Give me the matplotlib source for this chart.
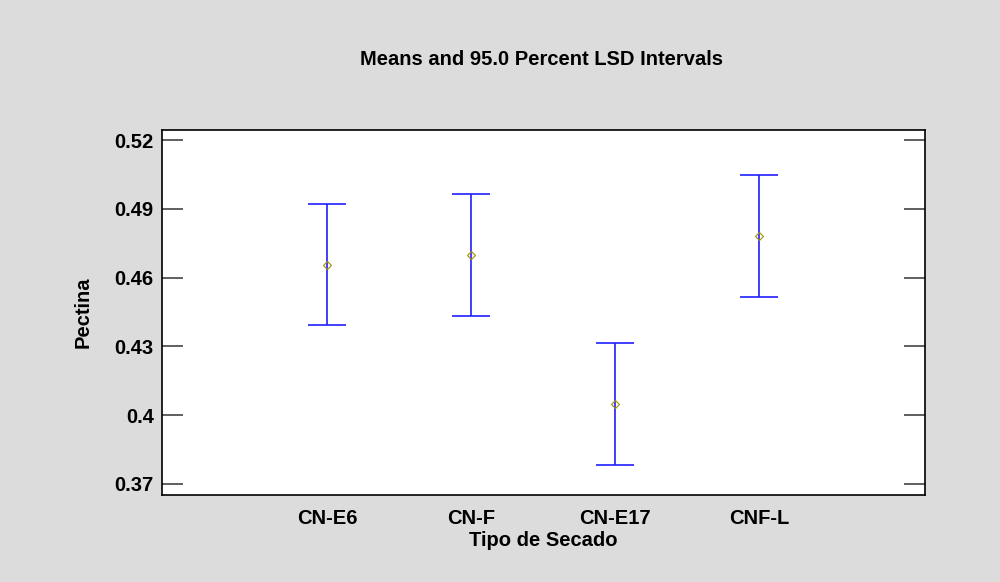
import matplotlib
matplotlib.use("Agg")
import matplotlib.pyplot as plt
import numpy as np

plt.rcParams["font.family"] = ["Liberation Sans", "DejaVu Sans"]

# Means and LSD interval bounds
grupos = ["CN-E6", "CN-F", "CN-E17", "CNF-L"]
medias = [0.4655, 0.4699, 0.4049, 0.4781]
inferior = [0.4393, 0.4433, 0.3783, 0.4515]
superior = [0.4921, 0.4965, 0.4315, 0.5047]

medias = np.array(medias)
err = [medias - np.array(inferior), np.array(superior) - medias]
x = np.arange(len(grupos))

fig = plt.figure(figsize=(10, 5.82), dpi=100, facecolor="#dcdcdc")
ax = fig.add_axes([0.162, 0.1495, 0.763, 0.6271])
ax.set_facecolor("white")

ax.errorbar(x, medias, yerr=err, fmt="none", ecolor="#2020ff", elinewidth=1.2,
            capsize=14, capthick=1.2, zorder=2)
ax.plot(x, medias, "D", ms=4, mfc="none", mec="#a09000", mew=0.8, zorder=3)

ax.set_xlim(-1.146, 4.153)
ax.set_ylim(0.3652, 0.5244)
ax.set_yticks([0.37, 0.40, 0.43, 0.46, 0.49, 0.52])
ax.set_yticklabels(["0.37", "0.4", "0.43", "0.46", "0.49", "0.52"])
ax.set_xticks(x)
ax.set_xticklabels(grupos)

ax.tick_params(axis="y", direction="in", length=15, width=1.2, color="#444444",
               right=True, labelsize=14.5, pad=6)
ax.tick_params(axis="x", length=0, labelsize=14.5, pad=10)
for lab in ax.get_xticklabels() + ax.get_yticklabels():
    lab.set_fontweight("bold")
for s in ax.spines.values():
    s.set_linewidth(1.2)

ax.set_xlabel("Tipo de Secado", fontsize=14.5, fontweight="bold", labelpad=2)
ax.set_ylabel("Pectina", fontsize=14.5, fontweight="bold", labelpad=16)
fig.text(0.542, 0.898, "Means and 95.0 Percent LSD Intervals", ha="center",
         va="center", fontsize=14.5, fontweight="bold")

fig.savefig("out.png", dpi=100, facecolor=fig.get_facecolor())
